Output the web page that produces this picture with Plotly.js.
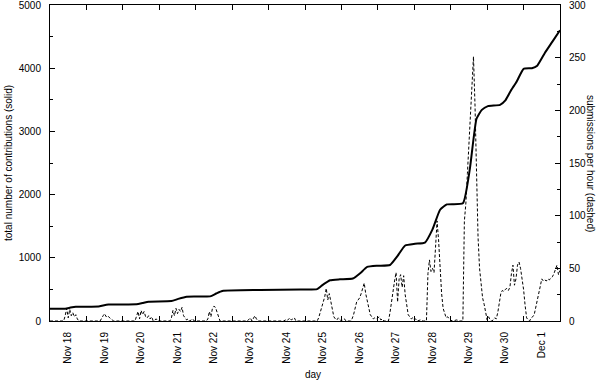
<!DOCTYPE html>
<html>
<head>
<meta charset="utf-8">
<script src="https://cdn.plot.ly/plotly-3.0.1.min.js"></script>
<style>html,body{margin:0;padding:0;background:#fff;}#chart{width:604px;height:380px;}</style>
</head>
<body>
<div id="chart"></div>
<script>
// Day ticks (midnight) and their labels
const dayTicks = ['2008-11-18','2008-11-19','2008-11-20','2008-11-21','2008-11-22','2008-11-23','2008-11-24',
                  '2008-11-25','2008-11-26','2008-11-27','2008-11-28','2008-11-29','2008-11-30','2008-12-01'];
const dayLabels = ['Nov 18','Nov 19','Nov 20','Nov 21','Nov 22','Nov 23','Nov 24',
                   'Nov 25','Nov 26','Nov 27','Nov 28','Nov 29','Nov 30','Dec 1'];
const leftTicks = [0, 1000, 2000, 3000, 4000, 5000];
const rightTicks = [0, 50, 100, 150, 200, 250, 300];

// Cumulative contributions (solid): hours since Nov 18 00:00, and totals
const totalHours = [0,10,13.5,17,32,35,38.5,57,61,65,80,84.5,90,105.5,109.5,113.5,138.5,165,176,179,184.5,191,199.5,204.5,209,216,224,229,234,240.5,247,252,257,261.5,272,276.5,281,284.5,288.5,296.5,300,303.5,307.5,312,317.5,321,326,331,336];
const totalValues = [192,195,212,226,228,245,260,264,285,305,315,350,384,390,435,475,490,500,505,560,645,660,672,760,855,875,886,1030,1195,1222,1240,1450,1760,1845,1862,2390,3200,3340,3400,3420,3490,3640,3790,3990,4000,4040,4240,4420,4600];

// Submissions per hour (dashed)
const rateHours = [0,9,10,11,12,13,14,15,16,17,18,19,
  33,34,35,36,37,38,39,40,41,42,
  56,57,58,59,60,61,62,63,64,65,66,67,68,70,71,
  79,80,81,82,83,84,85,86,87,88,89,90,91,92,94,95,
  103,104,105,106,107,108,109,110,111,112,
  130,131,132,133,135,136,137,
  154,155,156,158,159,160,161,162,
  176,177,178,179,180,181,182,183,184,185,186,187,188,189,190,191,192,194,195,
  198,199,200,201,202,203,204,205,206,207,208,209,210,211,212,213,214,215,216,217,218,219,220,
  223,224,225,226,227,228,229,230,231,232,233,234,235,236,237,238,239,240,241,242,244,246,
  248,249,250,251,252,253,254,255,256,257,258,259,260,261,262,263,265,268,270,
  272,273,274,275,276,277,278,279,280,281,282,283,284,285,286,287,288,289,290,291,
  292,293,294,295,296,297,298,299,300,301,302,303,304,305,306,307,308,309,310,311,312,313,314,315,316,
  317,318,319,320,321,322,323,324,325,326,327,328,329,330,331,332,333,334,335,336];
const rateValues = [0,0,5,12,3,11,5,8,4,6,2,0,
  0,3,5,7,4,5,3,2,1,0,
  0,4,9,2,10,6,9,4,3,5,2,4,0,2,0,
  0,3,10,5,12,7,11,9,13,5,3,1,2,0,2,0,
  0,2,9,4,12,14,13,8,3,0,
  0,2,3,0,5,2,0,
  0,1,0,3,1,2,3,0,
  0,3,8,14,18,23,31,20,26,18,10,4,2,1,3,1,0,2,0,
  0,2,6,12,18,20,22,26,32,36,26,18,10,6,4,2,3,2,3,4,1,2,0,
  0,8,20,30,38,46,18,40,44,32,43,25,14,6,4,2,3,1,2,0,1,0,
  0,45,58,47,50,46,70,95,77,45,26,12,7,3,4,2,0,1,0,
  0,95,112,140,165,195,222,251,205,125,80,50,32,22,16,8,1,4,1,0,
  1,3,2,8,18,26,29,28,30,31,29,32,45,53,34,40,53,56,50,42,30,15,3,1,0,
  3,4,6,12,18,24,33,40,38,39,38,40,39,41,42,45,50,53,44,48];

function hourToDate(h) {
  const t = Date.UTC(2008, 10, 18) + h * 3600000;
  return new Date(t).toISOString().slice(0, 19).replace('T', ' ');
}

const traces = [
  {
    x: totalHours.map(hourToDate), y: totalValues,
    type: 'scatter', mode: 'lines', yaxis: 'y',
    line: {color: '#000', width: 2, shape: 'spline', smoothing: 0.45},
    hoverinfo: 'skip'
  },
  {
    x: rateHours.map(hourToDate), y: rateValues,
    type: 'scatter', mode: 'lines', yaxis: 'y2',
    line: {color: '#000', width: 1, dash: '3px,2px'},
    hoverinfo: 'skip'
  }
];

const layout = {
  width: 604, height: 380,
  margin: {l: 50, r: 44, t: 5, b: 59, pad: 0},
  paper_bgcolor: '#fff', plot_bgcolor: '#fff',
  font: {family: '"Liberation Sans", Arial, sans-serif', size: 10, color: '#000'},
  showlegend: false,
  xaxis: {
    type: 'date', range: ['2008-11-18 00:00:00', '2008-12-02 00:00:00'],
    tickvals: dayTicks, ticktext: dayLabels, tickangle: -90,
    ticks: 'inside', ticklen: 5, tickcolor: '#000', tickwidth: 1,
    showline: true, linecolor: '#000', linewidth: 1, mirror: 'ticks',
    showgrid: false, zeroline: false,
    ticklabelshift: 18, ticklabelstandoff: 6, ticklabeloverflow: 'allow'
  },
  yaxis: {
    range: [0, 5000], tickvals: leftTicks,
    ticks: 'inside', ticklen: 5, tickcolor: '#000',
    showline: true, linecolor: '#000', linewidth: 1,
    showgrid: false, zeroline: false, ticklabelstandoff: 6, ticklabeloverflow: 'allow',
    minor: {dtick: 500, ticks: 'inside', ticklen: 3, tickcolor: '#000', showgrid: false}
  },
  yaxis2: {
    overlaying: 'y', side: 'right', range: [0, 300],
    tickvals: rightTicks,
    ticks: 'inside', ticklen: 5, tickcolor: '#000',
    showline: true, linecolor: '#000', linewidth: 1,
    showgrid: false, zeroline: false, ticklabelstandoff: 6, ticklabeloverflow: 'allow',
    minor: {dtick: 25, ticks: 'inside', ticklen: 3, tickcolor: '#000', showgrid: false}
  },
  annotations: [
    {text: 'total number of contributions (solid)', xref: 'paper', yref: 'paper',
     x: (8 - 50) / 510, y: 0.5, xanchor: 'center', yanchor: 'middle', textangle: -90, showarrow: false},
    {text: 'submissions per hour (dashed)', xref: 'paper', yref: 'paper',
     x: (591 - 50) / 510, y: 0.5, xanchor: 'center', yanchor: 'middle', textangle: 90, showarrow: false},
    {text: 'day', xref: 'paper', yref: 'paper',
     x: (313 - 50) / 510, y: (321 - 374) / 316, xanchor: 'center', yanchor: 'middle', showarrow: false}
  ]
};

Plotly.newPlot('chart', traces, layout, {displayModeBar: false, staticPlot: true});
</script>
</body>
</html>
